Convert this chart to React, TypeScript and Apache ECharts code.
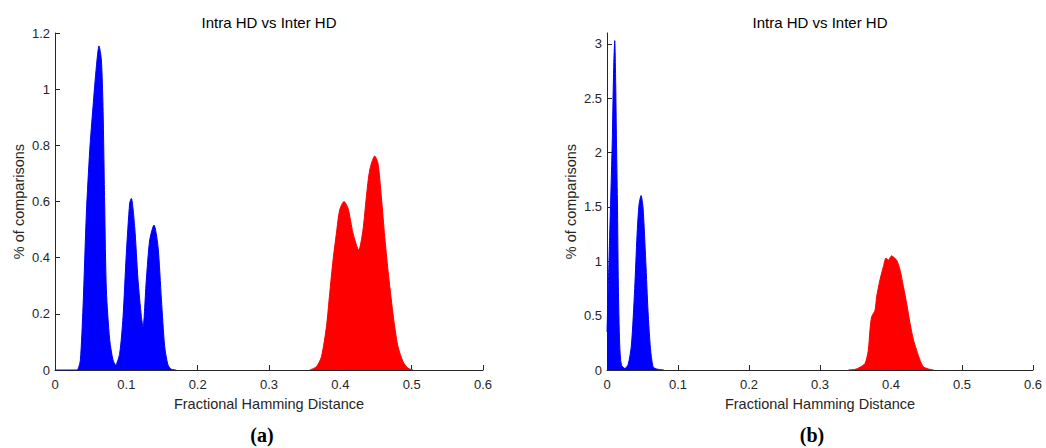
import React, { useEffect, useRef } from "react";
import * as echarts from "echarts";

const TITLE = "Intra HD vs Inter HD";
const X_NAME = "Fractional Hamming Distance";
const Y_NAME = "% of comparisons";
const CAPTIONS = ["(a)", "(b)"];

const X_MIN = 0;
const X_MAX = 0.6;
const X_INTERVAL = 0.1;

const LEFT_Y_MAX = 1.2;
const LEFT_Y_INTERVAL = 0.2;
const RIGHT_Y_MAX = 3.1;
const RIGHT_Y_TICKS = [0, 0.5, 1, 1.5, 2, 2.5, 3];

// (a) intra-class (blue)
const leftIntraX = [0, 0.03, 0.0323, 0.0356, 0.0393, 0.044, 0.0487, 0.0533, 0.058, 0.0617, 0.065, 0.0673, 0.0697, 0.072, 0.0767, 0.0813, 0.085, 0.0907, 0.0954, 0.1, 0.1047, 0.107, 0.1117, 0.1164, 0.1211, 0.1234, 0.128, 0.1328, 0.1388, 0.1444, 0.1492, 0.1538, 0.1584, 0.163, 0.17];
const leftIntraY = [0, 0, 0.003, 0.036, 0.225, 0.558, 0.783, 0.938, 1.08, 1.154, 1.104, 0.938, 0.58, 0.285, 0.107, 0.036, 0.018, 0.06, 0.19, 0.415, 0.594, 0.611, 0.51, 0.32, 0.19, 0.154, 0.32, 0.463, 0.516, 0.44, 0.25, 0.083, 0.018, 0.003, 0];

// (a) inter-class (red)
const leftInterX = [0.357, 0.3665, 0.3735, 0.3805, 0.3851, 0.3898, 0.3945, 0.3991, 0.4052, 0.4108, 0.4178, 0.4258, 0.4318, 0.4365, 0.4412, 0.4482, 0.4528, 0.4575, 0.4622, 0.4668, 0.4715, 0.4762, 0.4809, 0.4879, 0.4949, 0.502];
const leftInterY = [0, 0.012, 0.047, 0.154, 0.273, 0.392, 0.487, 0.57, 0.6, 0.576, 0.487, 0.427, 0.5, 0.617, 0.712, 0.762, 0.736, 0.617, 0.475, 0.356, 0.249, 0.154, 0.083, 0.03, 0.006, 0];

// (b) intra-class (blue)
const rightIntraX = [0, 0.0038, 0.0062, 0.0076, 0.0094, 0.0109, 0.0123, 0.0132, 0.0147, 0.016, 0.0179, 0.0203, 0.025, 0.0296, 0.0344, 0.039, 0.0423, 0.0451, 0.048, 0.0508, 0.0546, 0.0578, 0.0612, 0.0649, 0.0696, 0.08];
const rightIntraY = [0.35, 1.24, 1.8, 2.16, 2.78, 3.03, 2.62, 2.16, 1.55, 0.78, 0.23, 0.046, 0.015, 0.046, 0.23, 0.75, 1.24, 1.52, 1.605, 1.49, 1.0, 0.54, 0.2, 0.03, 0.01, 0];

// (b) inter-class (red)
const rightInterX = [0.34, 0.3493, 0.3563, 0.3634, 0.368, 0.3704, 0.3728, 0.3775, 0.3798, 0.3845, 0.3892, 0.393, 0.3962, 0.4009, 0.4033, 0.408, 0.4127, 0.4174, 0.4221, 0.4268, 0.4315, 0.4362, 0.4409, 0.4456, 0.4526, 0.46];
const rightInterY = [0, 0.006, 0.025, 0.06, 0.18, 0.37, 0.49, 0.55, 0.675, 0.83, 0.95, 1.03, 1.01, 1.05, 1.04, 1.01, 0.92, 0.77, 0.61, 0.43, 0.28, 0.18, 0.09, 0.03, 0.01, 0];

const BLUE = "#0000ff";
const RED = "#ff0000";
const AXIS_COLOR = "#262626";
const FONT = "'Liberation Sans', Arial, Helvetica, sans-serif";
const SERIF = "'Liberation Serif', 'DejaVu Serif', serif";

const zip = (xs: number[], ys: number[]) => xs.map((x, i) => [x, ys[i]]);

export default function App() {
  const ref = useRef<HTMLDivElement>(null);

  useEffect(() => {
    if (!ref.current) return;
    const chart = echarts.init(ref.current, undefined, { renderer: "svg" });

    const grids = [
      { left: 55, top: 33, width: 428, height: 337 },
      { left: 607, top: 33, width: 426, height: 337 },
    ];

    const xAxisBase = (gridIndex: number) => ({
      type: "value",
      gridIndex,
      min: X_MIN,
      max: X_MAX,
      interval: X_INTERVAL,
      name: X_NAME,
      nameLocation: "middle",
      nameGap: 26,
      nameTextStyle: { fontSize: 14.5, color: AXIS_COLOR, fontFamily: FONT },
      axisLine: { show: true, lineStyle: { color: AXIS_COLOR, width: 1 } },
      axisTick: { show: true, inside: true, length: 5, lineStyle: { color: AXIS_COLOR } },
      axisLabel: {
        fontSize: 13,
        color: AXIS_COLOR,
        fontFamily: FONT,
        margin: 8,
        formatter: (v: number) => String(+v.toFixed(2)),
      },
      splitLine: { show: false },
    });

    const yAxisCommon = {
      type: "value",
      min: 0,
      name: Y_NAME,
      nameLocation: "middle",
      nameGap: 29,
      nameTextStyle: { fontSize: 14.5, color: AXIS_COLOR, fontFamily: FONT },
      axisLine: { show: true, lineStyle: { color: AXIS_COLOR, width: 1 } },
      splitLine: { show: false },
    };

    const mkSeries = (xi: number, xs: number[], ys: number[], color: string) => ({
      type: "line",
      xAxisIndex: xi,
      yAxisIndex: xi,
      data: zip(xs, ys),
      showSymbol: false,
      symbol: "none",
      smooth: 0.25,
      lineStyle: { color, width: 1 },
      itemStyle: { color },
      areaStyle: { color, opacity: 1 },
      z: 1,
    });

    const captionStyle = (text: string) => ({
      text,
      fontSize: 20,
      fontWeight: "bold",
      fontFamily: SERIF,
      fill: "#000",
      textAlign: "center",
      textVerticalAlign: "middle",
    });

    chart.setOption({
      animation: false,
      backgroundColor: "#ffffff",
      grid: grids,
      xAxis: [xAxisBase(0), xAxisBase(1)],
      yAxis: [
        {
          ...yAxisCommon,
          gridIndex: 0,
          max: LEFT_Y_MAX,
          interval: LEFT_Y_INTERVAL,
          axisTick: { show: true, inside: true, length: 5, lineStyle: { color: AXIS_COLOR } },
          axisLabel: { fontSize: 13, color: AXIS_COLOR, fontFamily: FONT, margin: 5 },
        },
        {
          ...yAxisCommon,
          gridIndex: 1,
          max: RIGHT_Y_MAX,
          axisTick: {
            show: true,
            inside: true,
            length: 5,
            customValues: RIGHT_Y_TICKS,
            lineStyle: { color: AXIS_COLOR },
          },
          axisLabel: {
            fontSize: 13,
            color: AXIS_COLOR,
            fontFamily: FONT,
            margin: 5,
            customValues: RIGHT_Y_TICKS,
          },
        },
      ],
      series: [
        mkSeries(0, leftIntraX, leftIntraY, BLUE),
        mkSeries(0, leftInterX, leftInterY, RED),
        mkSeries(1, rightIntraX, rightIntraY, BLUE),
        mkSeries(1, rightInterX, rightInterY, RED),
      ],
      graphic: [
        {
          type: "text",
          x: 269,
          y: 22,
          style: { text: TITLE, fontSize: 15, fontFamily: FONT, fill: "#000", textAlign: "center", textVerticalAlign: "middle" },
        },
        {
          type: "text",
          x: 820,
          y: 22,
          style: { text: TITLE, fontSize: 15, fontFamily: FONT, fill: "#000", textAlign: "center", textVerticalAlign: "middle" },
        },
        { type: "text", x: 262, y: 435, style: captionStyle(CAPTIONS[0]) },
        { type: "text", x: 812, y: 435, style: captionStyle(CAPTIONS[1]) },
      ],
    });

    return () => chart.dispose();
  }, []);

  return (
    <div
      ref={ref}
      style={{ position: "fixed", left: 0, top: 0, width: 1046, height: 448, background: "#fff" }}
    />
  );
}
